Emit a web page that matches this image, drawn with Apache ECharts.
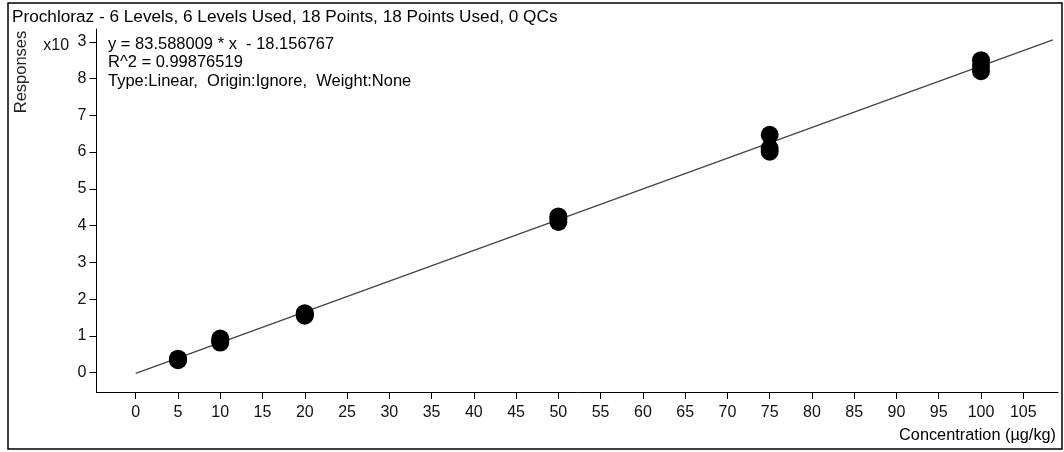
<!DOCTYPE html>
<html>
<head>
<meta charset="utf-8">
<script src="https://cdn.jsdelivr.net/npm/echarts@6/dist/echarts.min.js"></script>
<style>
html,body{margin:0;padding:0;background:#fff;}
#c{width:1064px;height:452px;}
</style>
</head>
<body>
<div id="c"></div>
<script>
// ---- data ----
var titleText = 'Prochloraz - 6 Levels, 6 Levels Used, 18 Points, 18 Points Used, 0 QCs';
var fitLines = ['y = 83.588009 * x  - 18.156767', 'R^2 = 0.99876519', 'Type:Linear,  Origin:Ignore,  Weight:None'];
var concentrations = [5, 5, 5, 10, 10, 10, 20, 20, 20, 50, 50, 50, 75, 75, 75, 100, 100, 100];
var responses = [0.34, 0.36, 0.38, 0.82, 0.87, 0.93, 1.55, 1.58, 1.62, 4.10, 4.18, 4.25, 6.01, 6.10, 6.47, 8.20, 8.35, 8.50]; // x10^3
var fitX = [0, 108.5];
var fitY = [-0.018157, 9.0511]; // x10^3
var xTicks = [0, 5, 10, 15, 20, 25, 30, 35, 40, 45, 50, 55, 60, 65, 70, 75, 80, 85, 90, 95, 100, 105];
var yTicks = [0, 1, 2, 3, 4, 5, 6, 7, 8, 9];
var xAxisName = 'Concentration (µg/kg)';
var yAxisName = 'Responses';

var font = '"Liberation Sans", Arial, sans-serif';
var chart = echarts.init(document.getElementById('c'), null, {renderer: 'canvas'});
var points = concentrations.map(function (x, i) { return [x, responses[i]]; });
var line = fitX.map(function (x, i) { return [x, fitY[i]]; });

chart.setOption({
  animation: false,
  backgroundColor: '#fff',
  grid: {left: 96.5, top: 29, width: 961.5, height: 363},
  xAxis: {
    type: 'value', min: -4.64, max: 109.11,
    splitLine: {show: false},
    axisLine: {show: true, onZero: false, lineStyle: {color: '#000', width: 1}},
    axisTick: {show: true, customValues: xTicks, length: 7, lineStyle: {color: '#000'}},
    axisLabel: {customValues: xTicks, margin: 13, color: '#111', fontSize: 16, fontFamily: font}
  },
  yAxis: {
    type: 'value', min: -0.525, max: 9.347,
    splitLine: {show: false},
    axisLine: {show: true, onZero: false, lineStyle: {color: '#000', width: 1}},
    axisTick: {show: true, customValues: yTicks, length: 7, lineStyle: {color: '#000'}},
    axisLabel: {
      customValues: yTicks, margin: 10, color: '#111', fontSize: 16, fontFamily: font,
      formatter: function (v) { return v === 9 ? '{x|x10} {e|3}' : String(v); },
      rich: {
        x: {fontSize: 16, fontFamily: font, color: '#111', padding: [7, 4, 0, 0]},
        e: {fontSize: 16, fontFamily: font, color: '#111'}
      }
    }
  },
  series: [
    {
      type: 'line', data: line, symbol: 'none', silent: true,
      lineStyle: {color: '#444', width: 1.2}, z: 1
    },
    {
      type: 'scatter', data: points, symbol: 'circle', symbolSize: 18,
      itemStyle: {color: '#000', opacity: 1}, z: 2
    }
  ],
  graphic: [
    {type: 'rect', shape: {x: 8, y: 3, width: 1054, height: 446}, style: {fill: 'none', stroke: '#000', lineWidth: 1.5}, silent: true},
    {type: 'text', left: 12, top: 8.5, style: {text: titleText, font: '17.2px ' + font, fill: '#000'}},
    {type: 'text', x: 108, y: 35, style: {text: fitLines.join('\n'), font: '16.5px ' + font, fill: '#000', lineHeight: 18.5}},
    {type: 'text', x: 21, y: 72, rotation: Math.PI / 2, style: {text: yAxisName, font: '16.5px ' + font, fill: '#222', align: 'center', verticalAlign: 'middle'}},
    {type: 'text', x: 1056, y: 436, style: {text: xAxisName, font: '16.3px ' + font, fill: '#000', align: 'right', verticalAlign: 'middle'}}
  ]
});
</script>
</body>
</html>
